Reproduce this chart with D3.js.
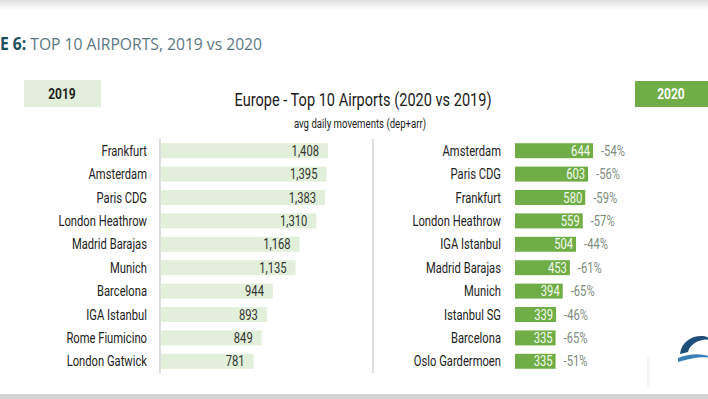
<!DOCTYPE html>
<html>
<head>
<meta charset="utf-8">
<script src="https://cdn.jsdelivr.net/npm/d3@7"></script>
<style>
  body { margin: 0; background: #fff; }
  svg { display: block; }
  .cond { font-family: 'Roboto', 'Noto Sans', sans-serif; }
</style>
</head>
<body>
<svg id="chart" width="708" height="399"></svg>
<script>
const W = 708;
const H = 399;

const airports2019 = ['Frankfurt', 'Amsterdam', 'Paris CDG', 'London Heathrow', 'Madrid Barajas',
  'Munich', 'Barcelona', 'IGA Istanbul', 'Rome Fiumicino', 'London Gatwick'];
const movements2019 = [1408, 1395, 1383, 1310, 1168, 1135, 944, 893, 849, 781];

const airports2020 = ['Amsterdam', 'Paris CDG', 'Frankfurt', 'London Heathrow', 'IGA Istanbul',
  'Madrid Barajas', 'Munich', 'Istanbul SG', 'Barcelona', 'Oslo Gardermoen'];
const movements2020 = [644, 603, 580, 559, 504, 453, 394, 339, 335, 335];
const change2020 = ['-54%', '-56%', '-59%', '-57%', '-44%', '-61%', '-65%', '-46%', '-65%', '-51%'];

const LIGHT = '#e2efda';
const GREEN = '#70ad47';
const COND = 0.8; // the original uses a condensed face
const fmt = d3.format(',');

const svg = d3.select('#chart');

// squeeze text horizontally to mimic the condensed font
function squeeze(sel, k = COND) {
  sel.each((d, i, n) => {
    const len = n[i].getComputedTextLength();
    d3.select(n[i]).attr('textLength', len * k).attr('lengthAdjust', 'spacingAndGlyphs');
  });
  return sel;
}

// page bands top and bottom
const grad = svg.append('defs').append('linearGradient')
  .attr('id', 'topband').attr('x1', 0).attr('y1', 0).attr('x2', 0).attr('y2', 1);
grad.append('stop').attr('offset', 0).attr('stop-color', '#dedede');
grad.append('stop').attr('offset', 1).attr('stop-color', '#ffffff');
svg.append('rect').attr('width', W).attr('height', 10).attr('fill', 'url(#topband)');
svg.append('rect').attr('y', 394).attr('width', W).attr('height', 5).attr('fill', '#d4d4d4');

// figure title
const title = svg.append('text').attr('x', 0).attr('y', 50)
  .style('font-family', "'Open Sans', sans-serif").style('font-size', '17px');
title.append('tspan').attr('fill', '#1d4f60').style('font-weight', 700).text('E 6: ');
title.append('tspan').attr('fill', '#5b7782').text('TOP 10 AIRPORTS, 2019 vs 2020');
title.attr('textLength', 262).attr('lengthAdjust', 'spacingAndGlyphs');

// year boxes
svg.append('rect').attr('x', 24).attr('y', 80).attr('width', 77).attr('height', 27).attr('fill', LIGHT);
svg.append('text').attr('class', 'cond').attr('x', 62).attr('y', 99).attr('text-anchor', 'middle')
  .style('font-size', '15px').style('font-weight', 700).attr('fill', '#222').text('2019')
  .call(squeeze);
svg.append('rect').attr('x', 635).attr('y', 81).attr('width', 73).attr('height', 26).attr('fill', GREEN);
svg.append('text').attr('class', 'cond').attr('x', 671).attr('y', 99).attr('text-anchor', 'middle')
  .style('font-size', '15px').style('font-weight', 700).attr('fill', '#fff').text('2020')
  .call(squeeze);

// chart titles
svg.append('text').attr('class', 'cond').attr('x', 363).attr('y', 106).attr('text-anchor', 'middle')
  .style('font-size', '19px').attr('fill', '#1a1a1a').text('Europe - Top 10 Airports (2020 vs 2019)')
  .attr('textLength', 257).attr('lengthAdjust', 'spacingAndGlyphs');
svg.append('text').attr('class', 'cond').attr('x', 360).attr('y', 128).attr('text-anchor', 'middle')
  .style('font-size', '12px').attr('fill', '#222').text('avg daily movements (dep+arr)')
  .call(squeeze);

const y = d3.scaleBand().domain(d3.range(10)).range([139, 373]).paddingInner(0.36).paddingOuter(0.18);
const x19 = d3.scaleLinear().domain([0, 1408]).range([0, 167]);
const x20 = d3.scaleLinear().domain([0, 644]).range([0, 78]);

function panel({ names, values, xs, x0, labelX, barFill, valueFill, valuePad, axisX, extra }) {
  const g = svg.append('g');
  g.append('line').attr('x1', axisX).attr('x2', axisX).attr('y1', 139).attr('y2', 373)
    .attr('stroke', '#c8c8c8').attr('stroke-width', 1.2);
  const rows = g.selectAll('g.row').data(values).enter().append('g')
    .attr('transform', (d, i) => `translate(0,${y(i)})`);
  rows.append('rect').attr('x', x0).attr('width', d => xs(d)).attr('height', y.bandwidth()).attr('fill', barFill);
  rows.append('text').attr('class', 'cond').attr('x', labelX).attr('y', y.bandwidth() / 2).attr('dy', '0.36em')
    .attr('text-anchor', 'end').style('font-size', '14px').attr('fill', '#222')
    .text((d, i) => names[i]).call(squeeze);
  rows.append('text').attr('class', 'cond').attr('x', d => x0 + xs(d) - valuePad).attr('y', y.bandwidth() / 2)
    .attr('dy', '0.36em').attr('text-anchor', 'end').style('font-size', '14px').attr('fill', valueFill)
    .text(d => fmt(d)).call(squeeze);
  if (extra) {
    rows.append('text').attr('class', 'cond').attr('x', d => x0 + xs(d) + 8).attr('y', y.bandwidth() / 2)
      .attr('dy', '0.36em').style('font-size', '14px').attr('fill', '#7d8c7d')
      .text((d, i) => extra[i]).call(squeeze);
  }
}

panel({ names: airports2019, values: movements2019, xs: x19, x0: 161, labelX: 147,
  barFill: LIGHT, valueFill: '#333', valuePad: 9, axisX: 160 });
panel({ names: airports2020, values: movements2020, xs: x20, x0: 515, labelX: 501,
  barFill: GREEN, valueFill: '#f4fbef', valuePad: 3, axisX: 373, extra: change2020 });

// small logo mark bottom right
const logo = svg.append('g').attr('transform', 'translate(692,348)');
logo.append('path').attr('d', 'M-12,6 C-10,-12 12,-16 20,-8 C8,-10 -2,-4 -4,4 Z').attr('fill', '#1f4e79');
logo.append('path').attr('d', 'M-14,10 C0,4 14,6 20,10 C10,8 0,10 -14,14 Z').attr('fill', '#3a7fb8');
svg.append('line').attr('x1', 648).attr('x2', 648).attr('y1', 358).attr('y2', 386).attr('stroke', '#e6e6e6');
</script>
</body>
</html>
